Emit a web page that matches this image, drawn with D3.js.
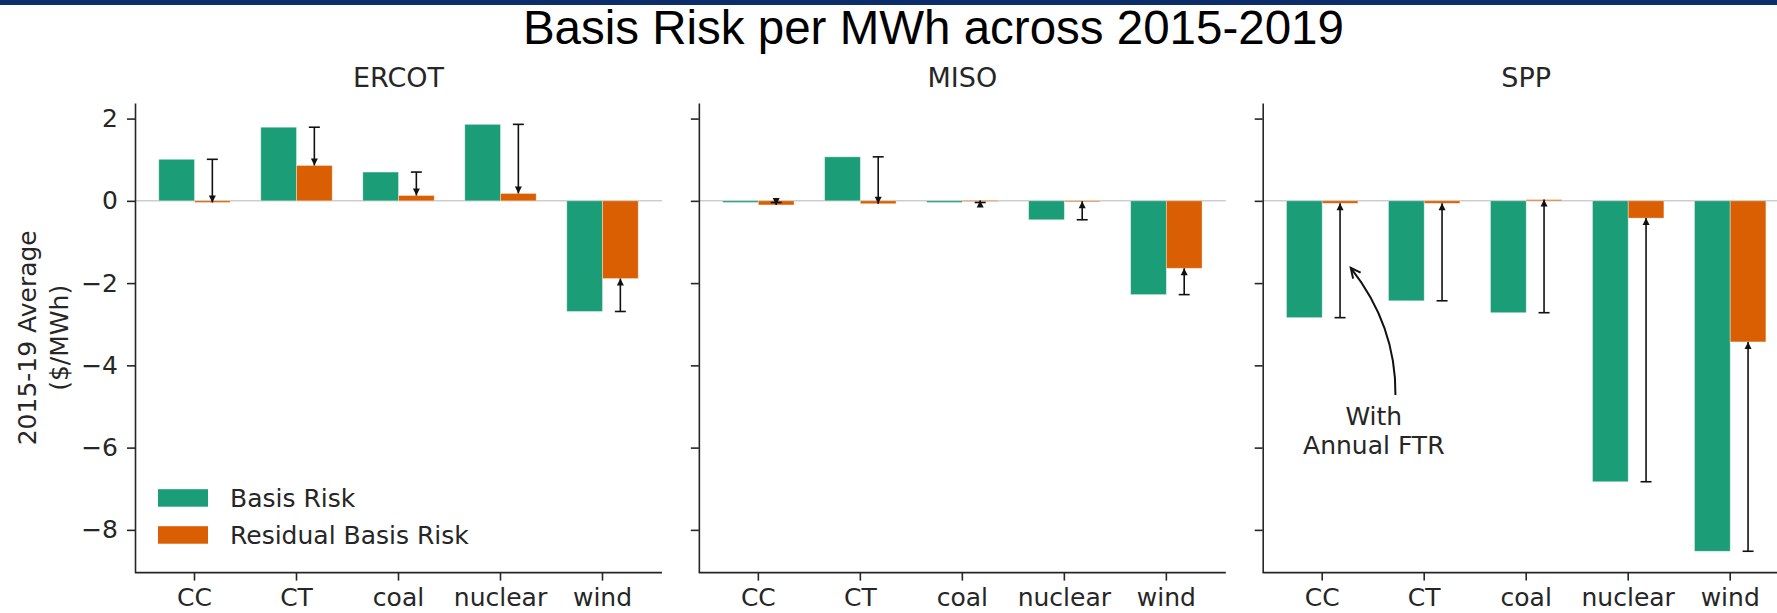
<!DOCTYPE html>
<html>
<head>
<meta charset="utf-8">
<script src="https://cdn.jsdelivr.net/npm/d3@7"></script>
<style>
body { margin: 0; background: #fff; }
text { font-family: "DejaVu Sans", sans-serif; fill: #262626; }
</style>
</head>
<body>
<script>
//categories, panels and series (2015-19 average, $/MWh)
var categories = ["CC", "CT", "coal", "nuclear", "wind"];
var regions = ["ERCOT", "MISO", "SPP"];
var seriesNames = ["Basis Risk", "Residual Basis Risk"];

var basisErcot = [1.01, 1.79, 0.70, 1.86, -2.69];
var residualErcot = [-0.04, 0.86, 0.13, 0.18, -1.89];
var basisMiso = [-0.04, 1.07, -0.04, -0.46, -2.28];
var residualMiso = [-0.10, -0.07, 0.01, -0.01, -1.64];
var basisSpp = [-2.84, -2.43, -2.72, -6.83, -8.52];
var residualSpp = [-0.06, -0.06, 0.03, -0.42, -3.43];

var yTicks = [2, 0, -2, -4, -6, -8];
var annotationLines = ["With", "Annual FTR"];

window.onload = setChart();

function setChart(){

    //figure dimensions
    var width = 1777,
        height = 613;

    var colors = ["#1b9e77", "#d95f02"];
    var basis = [basisErcot, basisMiso, basisSpp];
    var residual = [residualErcot, residualMiso, residualSpp];

    //panel frame
    var panelW = 527,
        panelStep = 563.85,
        firstLeft = 135,
        top = 103,
        bottom = 572.6;

    var svg = d3.select("body")
        .append("svg")
        .attr("width", width)
        .attr("height", height);

    //navy band on top of the slide
    svg.append("rect")
        .attr("x", 0).attr("y", 0)
        .attr("width", width).attr("height", 5)
        .attr("fill", "#0b2e6b");

    svg.append("text")
        .attr("x", 933.4)
        .attr("y", 44)
        .attr("text-anchor", "middle")
        .style("font-family", "'Liberation Sans', Arial, sans-serif")
        .style("font-size", "47.5px")
        .style("fill", "#000")
        .text("Basis Risk per MWh across 2015-2019");

    //shared y scale, matplotlib style 5% margins
    var all = d3.merge(basis.concat(residual));
    var lo = d3.min(all), hi = d3.max(all), pad = (hi - lo) * 0.05;
    var y = d3.scaleLinear()
        .domain([lo - pad, hi + pad])
        .range([bottom, top]);

    var fmt = function(d){ return d < 0 ? "\u2212" + Math.abs(d) : String(d); };

    regions.forEach(function(region, r){
        var left = firstLeft + r * panelStep;

        var x = d3.scaleBand()
            .domain(categories)
            .range([left, left + panelW])
            .paddingInner(0)
            .paddingOuter(0.0833);
        var step = x.step(),
            barW = step * 0.35;
        var center = function(c){ return x(c) + step / 2; };
        //continuous category position, used for the annotation
        var xPos = function(v){ return center(categories[0]) + v * step; };

        var g = svg.append("g").attr("class", "panel " + region);

        //zero line
        g.append("line")
            .attr("x1", left).attr("x2", left + panelW)
            .attr("y1", y(0)).attr("y2", y(0))
            .attr("stroke", "#b5b5b5")
            .attr("stroke-width", 1);

        //bars
        [basis[r], residual[r]].forEach(function(vals, s){
            g.selectAll(".bar" + s)
                .data(vals)
                .enter()
                .append("rect")
                .attr("class", "bar" + s)
                .attr("x", function(d, i){ return center(categories[i]) - barW + s * barW; })
                .attr("width", barW)
                .attr("y", function(d){ return Math.min(y(d), y(0)); })
                .attr("height", function(d){ return Math.max(Math.abs(y(d) - y(0)), 1); })
                .attr("fill", colors[s])
                .attr("stroke", "#ffffff")
                .attr("stroke-opacity", 0.45)
                .attr("stroke-width", 0.8);
        });

        //arrows from basis to residual, drawn at the residual bar
        var errs = categories.map(function(c, i){
            return {x: center(c) + barW / 2, y1: y(basis[r][i]), y2: y(residual[r][i])};
        });
        var eg = g.selectAll(".err")
            .data(errs)
            .enter()
            .append("g")
            .attr("class", "err");
        eg.append("line")
            .attr("x1", function(d){ return d.x; })
            .attr("x2", function(d){ return d.x; })
            .attr("y1", function(d){ return d.y1; })
            .attr("y2", function(d){ return d.y2; })
            .attr("stroke", "#111")
            .attr("stroke-width", 1.6);
        eg.append("line")
            .attr("x1", function(d){ return d.x - 5.5; })
            .attr("x2", function(d){ return d.x + 5.5; })
            .attr("y1", function(d){ return d.y1; })
            .attr("y2", function(d){ return d.y1; })
            .attr("stroke", "#111")
            .attr("stroke-width", 1.6);
        eg.append("path")
            .attr("d", function(d){
                var dir = d.y2 >= d.y1 ? 1 : -1;
                return "M" + d.x + "," + d.y2 +
                    "L" + (d.x - 3.5) + "," + (d.y2 - dir * 7) +
                    "L" + (d.x + 3.5) + "," + (d.y2 - dir * 7) + "Z";
            })
            .attr("fill", "#111");

        //axes
        var xAxis = d3.axisBottom(x).tickSizeOuter(0).tickSize(8).tickPadding(8);
        var gx = g.append("g")
            .attr("transform", "translate(0," + bottom + ")")
            .call(xAxis);
        gx.select(".domain").attr("d", "M" + left + ",0H" + (left + panelW));

        var yAxis = d3.axisLeft(y).tickValues(yTicks).tickSize(8).tickPadding(9)
            .tickSizeOuter(0).tickFormat(r === 0 ? fmt : function(){ return ""; });
        var gy = g.append("g")
            .attr("transform", "translate(" + left + ",0)")
            .call(yAxis);

        g.selectAll(".domain, .tick line")
            .attr("stroke", "#262626")
            .attr("stroke-width", 1.6);
        g.selectAll(".tick text")
            .style("font-family", "'DejaVu Sans', sans-serif")
            .style("font-size", "25px")
            .attr("fill", "#262626");

        //panel title
        g.append("text")
            .attr("x", left + panelW / 2)
            .attr("y", 87)
            .attr("text-anchor", "middle")
            .style("font-size", "27px")
            .text(region);

        //legend on the first panel
        if (r === 0){
            seriesNames.forEach(function(name, s){
                var cy = 498 + s * 37;
                g.append("rect")
                    .attr("x", left + 23).attr("y", cy - 8.8)
                    .attr("width", 50).attr("height", 17.5)
                    .attr("fill", colors[s]);
                g.append("text")
                    .attr("x", left + 95).attr("y", cy)
                    .attr("dy", "0.36em")
                    .style("font-size", "25px")
                    .text(name);
            });
        }

        //annotation on the SPP panel
        if (r === 2){
            annotationLines.forEach(function(line, k){
                g.append("text")
                    .attr("x", xPos(0.506))
                    .attr("y", y(-5.24 - k * 0.70))
                    .attr("dy", "0.36em")
                    .attr("text-anchor", "middle")
                    .style("font-size", "25px")
                    .text(line);
            });
            var p0 = [xPos(0.718), y(-4.72)],
                pc = [xPos(0.726), y(-3.04)],
                p1 = [xPos(0.280), y(-1.63)];
            g.append("path")
                .attr("d", "M" + p0 + "Q" + pc + " " + p1)
                .attr("fill", "none")
                .attr("stroke", "#111")
                .attr("stroke-width", 2);
            var ang = Math.atan2(p1[1] - pc[1], p1[0] - pc[0]);
            var head = [ang + Math.PI - 0.45, ang + Math.PI + 0.45].map(function(a){
                return [p1[0] + 11 * Math.cos(a), p1[1] + 11 * Math.sin(a)];
            });
            g.append("path")
                .attr("d", "M" + head[0] + "L" + p1 + "L" + head[1])
                .attr("fill", "none")
                .attr("stroke", "#111")
                .attr("stroke-width", 2);
        }
    });

    //y axis label
    var yl = svg.append("text")
        .attr("transform", "translate(43," + ((top + bottom) / 2) + ") rotate(-90)")
        .attr("text-anchor", "middle")
        .style("font-size", "25px");
    yl.append("tspan").attr("x", 0).attr("y", -16).attr("dy", "0.36em").text("2015-19 Average");
    yl.append("tspan").attr("x", 0).attr("y", 16).attr("dy", "0.36em").text("($/MWh)");
};
</script>
</body>
</html>
